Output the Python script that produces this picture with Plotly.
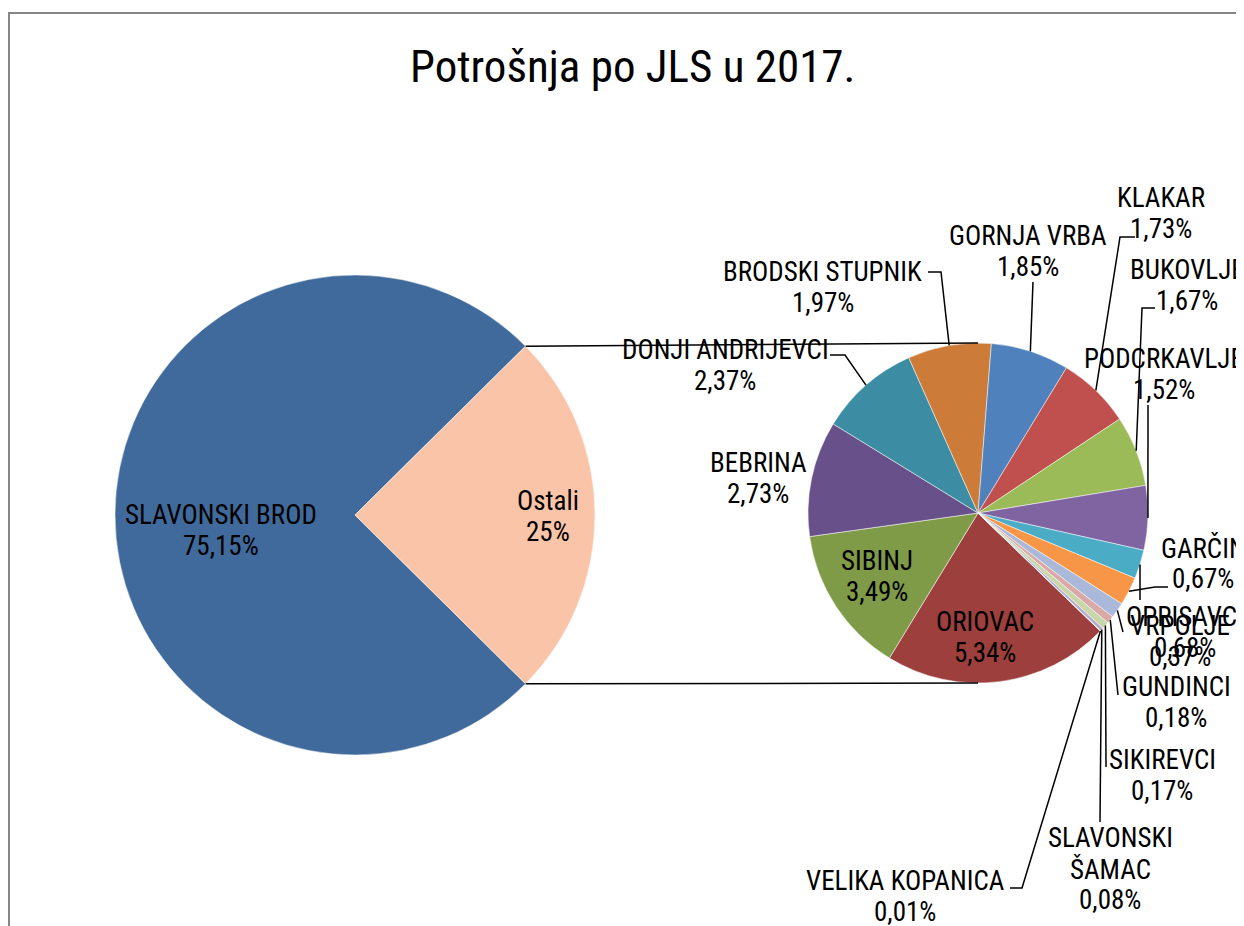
import math
import plotly.graph_objects as go

# ---------------- data ----------------
main_labels = ["SLAVONSKI BROD", "Ostali"]
sub_labels = ["ORIOVAC", "SIBINJ", "BEBRINA", "DONJI ANDRIJEVCI", "BRODSKI STUPNIK",
              "GORNJA VRBA", "KLAKAR", "BUKOVLJE", "PODCRKAVLJE", "OPRISAVCI", "GARČIN",
              "VRPOLJE", "GUNDINCI", "SIKIREVCI", "SLAVONSKI ŠAMAC", "VELIKA KOPANICA"]
sub_values = [5.34, 3.49, 2.73, 2.37, 1.97, 1.85, 1.73, 1.67, 1.52, 0.68, 0.67,
              0.37, 0.18, 0.17, 0.08, 0.01]
main_values = [75.15, round(sum(sub_values), 2)]

title_text = "Potrošnja po JLS u 2017."

# ---------------- styles ----------------
main_colors = ["#406A9B", "#F9C4A7"]
sub_colors = ["#9C3F3D", "#7F9B48", "#68508A", "#3C8DA4", "#CC7B38",
              "#4F81BD", "#C0504D", "#9BBB59", "#8064A2", "#4BACC6", "#F79646",
              "#AAB9DA", "#D9A8A7", "#C7D7A9", "#B9ACCB", "#A6D4E2"]
FONT = "Roboto Condensed, Liberation Sans Narrow, DejaVu Sans Condensed, Liberation Sans, Arial, sans-serif"
LBL = 27
LINE_GAP = 31
W, H = 1244, 926
OFF = 8  # page body margin

# pie geometry (pixels in the screenshot)
MAIN_C, MAIN_R, MAIN_ROT = (355, 515), 240, 134.7
SUB_C, SUB_R, SUB_ROT = (978, 513), 170, 134.0


def px(x):
    return (x - OFF) / W


def py(y):
    return 1 - (y - OFF) / H


def domain(c, r):
    return dict(x=[px(c[0] - r), px(c[0] + r)], y=[py(c[1] + r), py(c[1] - r)])


def pct(v, nd=2):
    return (f"{v:.{nd}f}".replace(".", ",") if nd else f"{round(v)}") + "%"


fig = go.Figure()
fig.add_trace(go.Pie(
    labels=main_labels, values=main_values, textinfo="none",
    sort=False, direction="clockwise", rotation=MAIN_ROT,
    marker=dict(colors=main_colors, line=dict(color="white", width=0.5)),
    domain=domain(MAIN_C, MAIN_R), hoverinfo="skip", showlegend=False,
))
fig.add_trace(go.Pie(
    labels=sub_labels, values=sub_values, textinfo="none",
    sort=False, direction="clockwise", rotation=SUB_ROT,
    marker=dict(colors=sub_colors, line=dict(color="white", width=0.5)),
    domain=domain(SUB_C, SUB_R), hoverinfo="skip", showlegend=False,
))

# ---------------- label placement (x centre, y of first line) + leader paths ----------------
label_layout = {
    "SLAVONSKI BROD": dict(pos=(221, 515), path=[]),
    "Ostali": dict(pos=(548, 501), path=[]),
    "ORIOVAC": dict(pos=(985, 622), path=[]),
    "SIBINJ": dict(pos=(877, 561), path=[]),
    "BEBRINA": dict(pos=(758, 463), path=[]),
    "DONJI ANDRIJEVCI": dict(pos=(725, 350), path=[(845, 355), (830, 355)]),
    "BRODSKI STUPNIK": dict(pos=(823, 272), path=[(941, 272), (928, 272)]),
    "GORNJA VRBA": dict(pos=(1028, 236), path=[(1033, 282)]),
    "KLAKAR": dict(pos=(1161, 198), path=[(1120, 237), (1135, 237)]),
    "BUKOVLJE": dict(pos=(1187, 270), path=[(1142, 308), (1155, 308)]),
    "PODCRKAVLJE": dict(pos=(1164, 359), path=[(1148, 405)]),
    "GARČIN": dict(pos=(1203, 548), path=[(1155, 587), (1168, 587)]),
    "OPRISAVCI": dict(pos=(1185, 617), path=[(1140, 600)]),
    "VRPOLJE": dict(pos=(1180, 626), path=[(1123, 632)]),
    "GUNDINCI": dict(pos=(1176, 687), path=[(1118, 695)]),
    "SIKIREVCI": dict(pos=(1162, 760), path=[(1106, 767)]),
    "SLAVONSKI ŠAMAC": dict(pos=(1110, 838), path=[(1100, 822)]),
    "VELIKA KOPANICA": dict(pos=(905, 881), path=[(1022, 888), (1010, 888)]),
}

total_sub = sum(sub_values)
cum = 0.0
mid_angle = {}
for l, v in zip(sub_labels, sub_values):
    mid_angle[l] = SUB_ROT + (cum + v / 2) / total_sub * 360
    cum += v

annotations = []
shapes = []


def add_label(lines, x, y0):
    for i, t in enumerate(lines):
        annotations.append(dict(
            x=px(x), y=py(y0 + i * LINE_GAP), xref="paper", yref="paper",
            text=t, showarrow=False, xanchor="center", yanchor="middle",
            font=dict(family=FONT, size=LBL, color="black"),
        ))


# main pie labels
add_label([main_labels[0], pct(main_values[0])], *label_layout[main_labels[0]]["pos"])
add_label([main_labels[1], pct(main_values[1], 0)], *label_layout[main_labels[1]]["pos"])

# secondary pie labels
for l, v in zip(sub_labels, sub_values):
    cfg = label_layout[l]
    name_lines = l.split(" ") if l == "SLAVONSKI ŠAMAC" else [l]
    add_label(name_lines + [pct(v)], *cfg["pos"])
    if cfg["path"]:
        a = math.radians(mid_angle[l])
        ax = SUB_C[0] + SUB_R * math.sin(a)
        ay = SUB_C[1] - SUB_R * math.cos(a)
        pts = [(ax, ay)] + cfg["path"]
        d = "M " + " L ".join(f"{px(x):.5f},{py(y):.5f}" for x, y in pts)
        shapes.append(dict(type="path", path=d, xref="paper", yref="paper",
                           line=dict(color="black", width=1.5)))

# connector lines between the two pies (edges of the 'Ostali' slice)
ost_start = MAIN_ROT + main_values[0] / sum(main_values) * 360
ost_end = ost_start + main_values[1] / sum(main_values) * 360
for ang, ty in [(ost_start, SUB_C[1] - SUB_R), (ost_end, SUB_C[1] + SUB_R)]:
    a = math.radians(ang)
    x0 = MAIN_C[0] + MAIN_R * math.sin(a)
    y0 = MAIN_C[1] - MAIN_R * math.cos(a)
    shapes.append(dict(type="line", xref="paper", yref="paper",
                       x0=px(x0), y0=py(y0), x1=px(SUB_C[0]), y1=py(ty),
                       line=dict(color="black", width=1.5)))

# chart-area border
shapes.append(dict(type="rect", xref="paper", yref="paper",
                   x0=px(9), y0=-0.02, x1=1.02, y1=py(13),
                   line=dict(color="#868686", width=2), layer="below"))

annotations.append(dict(
    x=px(632), y=py(66), xref="paper", yref="paper", text=title_text,
    showarrow=False, xanchor="center", yanchor="middle",
    font=dict(family=FONT, size=45, color="black"),
))

fig.update_layout(
    width=W, height=H, margin=dict(l=0, r=0, t=0, b=0),
    paper_bgcolor="white", plot_bgcolor="white",
    annotations=annotations, shapes=shapes, showlegend=False,
    font=dict(family=FONT),
)

fig.write_html("out.html")
